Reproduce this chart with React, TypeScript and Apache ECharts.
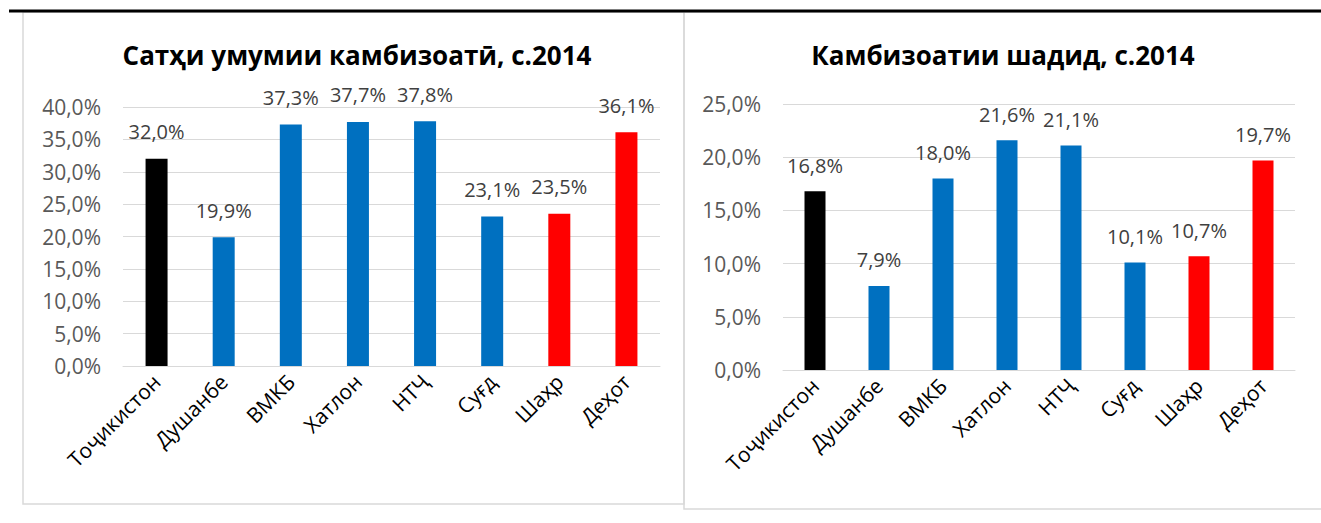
import React, { useEffect, useRef } from "react";
import * as echarts from "echarts";

const categories = ["Тоҷикистон", "Душанбе", "ВМКБ", "Хатлон", "НТҶ", "Суғд", "Шаҳр", "Деҳот"];
const totalPoverty = [32.0, 19.9, 37.3, 37.7, 37.8, 23.1, 23.5, 36.1];
const extremePoverty = [16.8, 7.9, 18.0, 21.6, 21.1, 10.1, 10.7, 19.7];
const barColors = ["#000000", "#0070C0", "#0070C0", "#0070C0", "#0070C0", "#0070C0", "#FF0000", "#FF0000"];
const titleLeft = "Сатҳи умумии камбизоатӣ, с.2014";
const titleRight = "Камбизоатии шадид, с.2014";
const leftMax = 40;
const rightMax = 25;
const tickStep = 5;

const FONT = "Open Sans";
const fmt = (v: number) => v.toFixed(1).replace(".", ",") + "%";

export default function App() {
  const ref = useRef<HTMLDivElement>(null);
  useEffect(() => {
    const chart = echarts.init(ref.current!, null, { renderer: "svg" });
    const mkX = (gi: number) => ({
      type: "category",
      gridIndex: gi,
      data: categories,
      axisTick: { show: false },
      axisLine: { lineStyle: { color: "#d9d9d9", width: 1 } },
      axisLabel: { rotate: 45, color: "#000", fontSize: 21, fontFamily: FONT, margin: 12, interval: 0 },
    });
    const mkY = (gi: number, max: number) => ({
      type: "value",
      gridIndex: gi,
      min: 0,
      max,
      interval: tickStep,
      axisLabel: { color: "#595959", fontSize: 21, fontFamily: FONT, formatter: fmt, margin: 22 },
      splitLine: { lineStyle: { color: "#d9d9d9", width: 1 } },
      axisLine: { show: false },
      axisTick: { show: false },
    });
    const mkSeries = (gi: number, data: number[], bw: number, dist: number) => ({
      type: "bar",
      xAxisIndex: gi,
      yAxisIndex: gi,
      barWidth: bw,
      data: data.map((v, i) => ({ value: v, itemStyle: { color: barColors[i] } })),
      label: {
        show: true,
        position: "top",
        distance: dist,
        color: "#404040",
        fontSize: 20,
        fontFamily: FONT,
        formatter: (p: any) => fmt(p.value),
      },
    });
    chart.setOption({
      animation: false,
      backgroundColor: "#fff",
      grid: [
        { left: 123, top: 107, width: 537, height: 259 },
        { left: 783, top: 104, width: 512, height: 266 },
      ],
      xAxis: [mkX(0), mkX(1)],
      yAxis: [mkY(0, leftMax), mkY(1, rightMax)],
      series: [mkSeries(0, totalPoverty, 22, 17), mkSeries(1, extremePoverty, 21, 16)],
      graphic: [
        { type: "rect", shape: { x: 23, y: 12, width: 661, height: 492 }, style: { fill: "none", stroke: "#d9d9d9", lineWidth: 1.5 }, z: 1 },
        { type: "rect", shape: { x: 684, y: 12, width: 640, height: 497 }, style: { fill: "none", stroke: "#d9d9d9", lineWidth: 1.5 }, z: 1 },
        { type: "line", shape: { x1: 9, y1: 11, x2: 1321, y2: 11 }, style: { stroke: "#000", lineWidth: 3 }, z: 2 },
        { type: "text", x: 357, y: 55, style: { text: titleLeft, fill: "#000", font: `bold 26px '${FONT}'`, textAlign: "center", textVerticalAlign: "middle" } },
        { type: "text", x: 1003, y: 55, style: { text: titleRight, fill: "#000", font: `bold 26px '${FONT}'`, textAlign: "center", textVerticalAlign: "middle" } },
      ],
    });
    return () => chart.dispose();
  }, []);
  return <div ref={ref} style={{ position: "fixed", left: 0, top: 0, width: 1321, height: 523 }} />;
}
